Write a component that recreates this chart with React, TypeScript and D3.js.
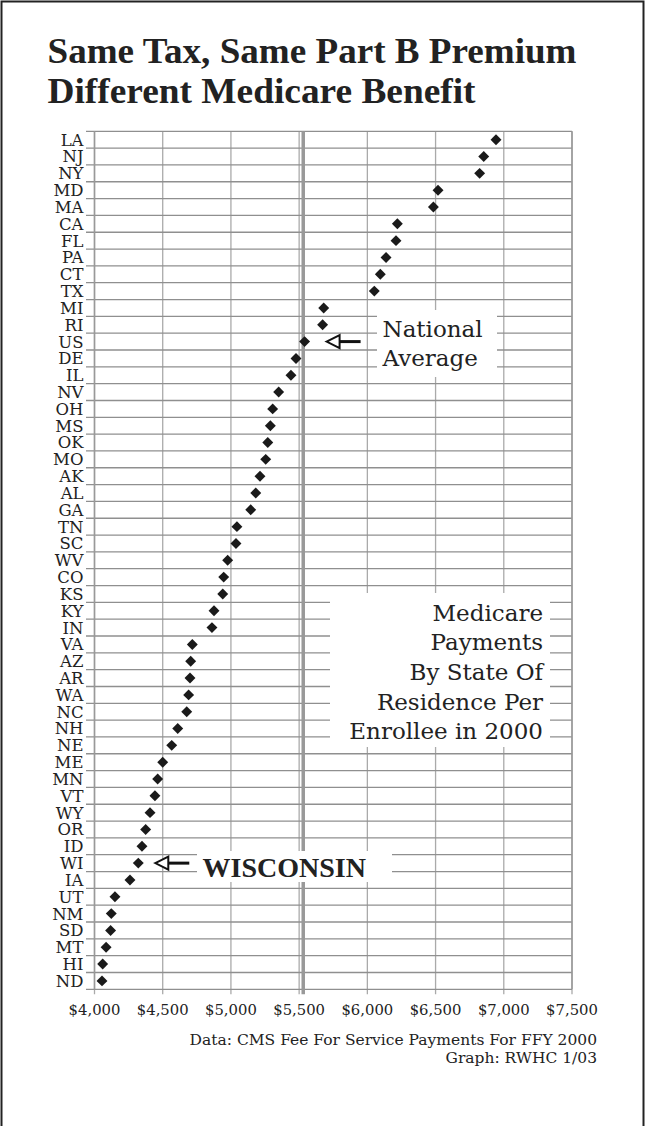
import React from "react";
import * as d3 from "d3";

const STATES = ["LA","NJ","NY","MD","MA","CA","FL","PA","CT","TX","MI","RI","US","DE","IL","NV","OH","MS","OK","MO","AK","AL","GA","TN","SC","WV","CO","KS","KY","IN","VA","AZ","AR","WA","NC","NH","NE","ME","MN","VT","WY","OR","ID","WI","IA","UT","NM","SD","MT","HI","ND"];
const PAYMENTS = [6943,6853,6823,6518,6484,6220,6210,6137,6095,6051,5680,5672,5540,5477,5440,5350,5306,5289,5270,5255,5213,5182,5145,5044,5037,4976,4947,4940,4876,4861,4717,4705,4700,4690,4676,4610,4566,4500,4463,4443,4407,4375,4348,4321,4260,4150,4123,4118,4085,4060,4055];
const X_TICKS = [4000,4500,5000,5500,6000,6500,7000,7500];
const NATIONAL_LINE = 5530;
const TITLE_LINES = ["Same Tax, Same Part B Premium", "Different Medicare Benefit"];
const TITLE_WIDTHS = [529, 428];
const BOX_LINES = ["Medicare", "Payments", "By State Of", "Residence Per", "Enrollee in 2000"];
const NATAVG_LINES = ["National", "Average"];
const FOOT_LINES = ["Data: CMS Fee For Service Payments For FFY 2000", "Graph: RWHC 1/03"];

const W = 645, H = 1126;
const serif = "'DejaVu Serif', serif";
const boldSerif = "'Liberation Serif', 'Times New Roman', serif";

export default function App() {
  const x = d3.scaleLinear().domain([4000, 7500]).range([94.5, 572]);
  const y = d3.scaleBand<string>().domain(STATES).range([131.3, 989.3]);
  const bw = y.bandwidth();
  const top = y.range()[0], bottom = y.range()[1];
  const left = x.range()[0], right = x.range()[1];
  const boundaries = d3.range(STATES.length + 1).map(i => top + i * bw);
  const fmt = (v: number) => "$" + d3.format(",")(v);
  const diamond = d3.symbol().type(d3.symbolDiamond2).size(76)();
  const yc = (s: string) => (y(s) as number) + bw / 2;

  const usY = yc("US");
  const usX = x(PAYMENTS[STATES.indexOf("US")]);
  const wiY = yc("WI");
  const wiX = x(PAYMENTS[STATES.indexOf("WI")]);

  const arrow = (tipX: number, cy: number, len: number) => {
    const head = 13, hh = 6.5;
    return (
      <g>
        <line x1={tipX + head} x2={tipX + len} y1={cy} y2={cy} stroke="#111" strokeWidth={3} />
        <path d={`M${tipX},${cy} L${tipX + head},${cy - hh} L${tipX + head},${cy + hh} Z`} fill="#fff" stroke="#111" strokeWidth={2} strokeLinejoin="miter" />
      </g>
    );
  };

  return (
    <svg width={W} height={H} style={{ position: "absolute", left: 0, top: 0, background: "#fff" }}>
      <rect x={0} y={0} width={W} height={H} fill="#fff" />
      <rect x={1.5} y={1.5} width={642} height={H + 10} fill="none" stroke="#222" strokeWidth={2} />

      {TITLE_LINES.map((t, i) => (
        <text key={t} x={47.5} y={63.3 + i * 39.4} fontFamily={boldSerif} fontWeight="bold" fontSize={35.5} fill="#222"
          textLength={TITLE_WIDTHS[i]} lengthAdjust="spacingAndGlyphs">{t}</text>
      ))}

      {/* vertical gridlines */}
      {X_TICKS.map(v => (
        <line key={"v" + v} x1={x(v)} x2={x(v)} y1={top} y2={bottom + 5} stroke="#aaa" strokeWidth={1.3} />
      ))}
      {/* horizontal gridlines */}
      {boundaries.map((b, i) => (
        <line key={"h" + i} x1={left - 8.5} x2={right} y1={b} y2={b} stroke="#8f8f8f" strokeWidth={1.3} />
      ))}
      <line x1={left} x2={left} y1={top} y2={bottom} stroke="#999" strokeWidth={1.5} />
      <line x1={right} x2={right} y1={top} y2={bottom} stroke="#999" strokeWidth={1.5} />
      <line x1={x(NATIONAL_LINE)} x2={x(NATIONAL_LINE)} y1={top} y2={bottom + 5} stroke="#999" strokeWidth={3.5} />

      {/* annotation boxes */}
      <rect x={377} y={310} width={120} height={67} fill="#fff" />
      <rect x={330} y={593} width={220} height={154} fill="#fff" />
      <rect x={197} y={851} width={195} height={31} fill="#fff" />

      {/* state labels */}
      {STATES.map(s => (
        <text key={"l" + s} x={83.5} y={yc(s)} dy="0.36em" textAnchor="end" fontFamily={serif} fontSize={16.5} fill="#222">{s}</text>
      ))}

      {/* points */}
      {STATES.map((s, i) => (
        <path key={"p" + s} d={diamond as string} transform={`translate(${x(PAYMENTS[i])},${yc(s)})`} fill="#1a1a1a" />
      ))}

      {/* x tick labels */}
      {X_TICKS.map(v => (
        <text key={"t" + v} x={x(v)} y={1015} textAnchor="middle" fontFamily={serif} fontSize={14.8} fill="#222">{fmt(v)}</text>
      ))}

      {/* annotations */}
      {arrow(usX + 22, usY, 34)}
      {NATAVG_LINES.map((t, i) => (
        <text key={t} x={382.5} y={337.3 + i * 28.7} fontFamily={serif} fontSize={23} fill="#222">{t}</text>
      ))}
      {BOX_LINES.map((t, i) => (
        <text key={t} x={543} y={620.7 + i * 29.65} textAnchor="end" fontFamily={serif} fontSize={23} fill="#222">{t}</text>
      ))}
      {arrow(wiX + 17, wiY, 34)}
      <text x={202.5} y={876.7} fontFamily={boldSerif} fontWeight="bold" fontSize={28} fill="#222">WISCONSIN</text>

      {FOOT_LINES.map((t, i) => (
        <text key={t} x={597} y={1044.5 + i * 18.3} textAnchor="end" fontFamily={serif} fontSize={15.5} fill="#222">{t}</text>
      ))}
    </svg>
  );
}
